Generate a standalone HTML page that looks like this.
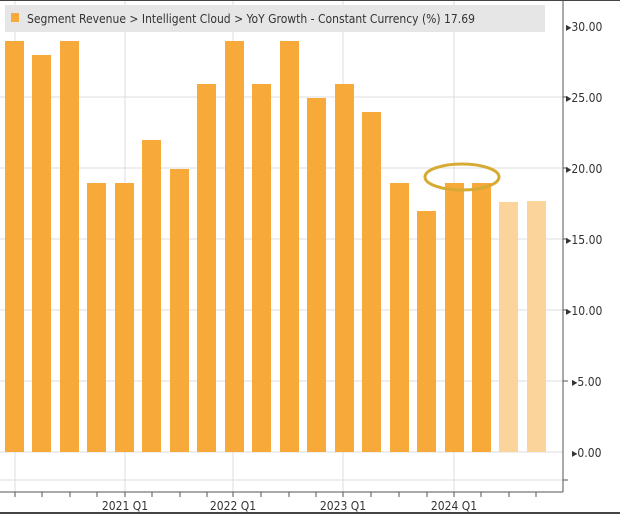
<!DOCTYPE html>
<html><head><style>body{margin:0;background:#fff}svg{display:block}</style></head><body>
<svg width="620" height="514" xmlns="http://www.w3.org/2000/svg" font-family="'DejaVu Sans Condensed','Liberation Sans',sans-serif">
<rect width="620" height="514" fill="#fff"/>
<g stroke="#dcdcdc" stroke-width="1">
<line x1="0" y1="97" x2="563" y2="97"/><line x1="0" y1="168" x2="563" y2="168"/><line x1="0" y1="239" x2="563" y2="239"/>
<line x1="0" y1="310" x2="563" y2="310"/><line x1="0" y1="381" x2="563" y2="381"/><line x1="0" y1="452" x2="563" y2="452"/>
<line x1="15" y1="0" x2="15" y2="492"/><line x1="125" y1="0" x2="125" y2="492"/><line x1="233" y1="0" x2="233" y2="492"/>
<line x1="343" y1="0" x2="343" y2="492"/><line x1="454" y1="0" x2="454" y2="492"/>
<line x1="0" y1="480" x2="563" y2="480"/>
</g>
<g fill="#f7a93a">
<rect x="5" y="41" width="19" height="411"/><rect x="32" y="55" width="19" height="397"/><rect x="60" y="41" width="19" height="411"/>
<rect x="87" y="183" width="19" height="269"/><rect x="115" y="183" width="19" height="269"/><rect x="142" y="140" width="19" height="312"/>
<rect x="170" y="169" width="19" height="283"/><rect x="197" y="84" width="19" height="368"/><rect x="225" y="41" width="19" height="411"/>
<rect x="252" y="84" width="19" height="368"/><rect x="280" y="41" width="19" height="411"/><rect x="307" y="98" width="19" height="354"/>
<rect x="335" y="84" width="19" height="368"/><rect x="362" y="112" width="19" height="340"/><rect x="390" y="183" width="19" height="269"/>
<rect x="417" y="211" width="19" height="241"/><rect x="445" y="183" width="19" height="269"/><rect x="472" y="183" width="19" height="269"/>
</g>
<g fill="#fbd49c"><rect x="499" y="202" width="19" height="250"/><rect x="527" y="201" width="19" height="251"/></g>
<ellipse cx="462" cy="177" rx="37" ry="13" fill="none" stroke="#d6aa33" stroke-width="3"/>
<rect x="5" y="5" width="540" height="27" fill="#e6e6e6"/>
<rect x="11" y="13" width="8" height="9" fill="#f7a93a"/>
<text x="27" y="23" font-size="12" fill="#333">Segment Revenue &gt; Intelligent Cloud &gt; YoY Growth - Constant Currency (%)  17.69</text>
<line x1="563" y1="0" x2="563" y2="492" stroke="#555"/>
<line x1="0" y1="492" x2="563" y2="492" stroke="#555"/>
<g stroke="#555"><line x1="15" y1="492" x2="15" y2="497"/><line x1="42" y1="492" x2="42" y2="497"/><line x1="70" y1="492" x2="70" y2="497"/><line x1="97" y1="492" x2="97" y2="497"/><line x1="125" y1="492" x2="125" y2="497"/><line x1="152" y1="492" x2="152" y2="497"/><line x1="180" y1="492" x2="180" y2="497"/><line x1="207" y1="492" x2="207" y2="497"/><line x1="233" y1="492" x2="233" y2="497"/><line x1="261" y1="492" x2="261" y2="497"/><line x1="289" y1="492" x2="289" y2="497"/><line x1="316" y1="492" x2="316" y2="497"/><line x1="343" y1="492" x2="343" y2="497"/><line x1="371" y1="492" x2="371" y2="497"/><line x1="399" y1="492" x2="399" y2="497"/><line x1="427" y1="492" x2="427" y2="497"/><line x1="454" y1="492" x2="454" y2="497"/><line x1="481" y1="492" x2="481" y2="497"/><line x1="509" y1="492" x2="509" y2="497"/><line x1="536" y1="492" x2="536" y2="497"/>
<line x1="563" y1="97" x2="568" y2="97"/><line x1="563" y1="168" x2="568" y2="168"/><line x1="563" y1="239" x2="568" y2="239"/><line x1="563" y1="310" x2="568" y2="310"/><line x1="563" y1="381" x2="568" y2="381"/><line x1="563" y1="480" x2="568" y2="480"/></g>
<g font-size="12" fill="#333">
<text x="566" y="31">▸30.00</text><text x="566" y="102">▸25.00</text><text x="566" y="173">▸20.00</text><text x="566" y="244">▸15.00</text>
<text x="566" y="315">▸10.00</text><text x="572" y="386">▸5.00</text><text x="572" y="457">▸0.00</text>
<text x="125" y="510" text-anchor="middle">2021 Q1</text><text x="233" y="510" text-anchor="middle">2022 Q1</text>
<text x="343" y="510" text-anchor="middle">2023 Q1</text><text x="454" y="510" text-anchor="middle">2024 Q1</text>
</g>
<line x1="0" y1="0.5" x2="620" y2="0.5" stroke="#444"/>
<line x1="0" y1="513" x2="620" y2="513" stroke="#444" stroke-width="2"/>
</svg>
</body></html>
